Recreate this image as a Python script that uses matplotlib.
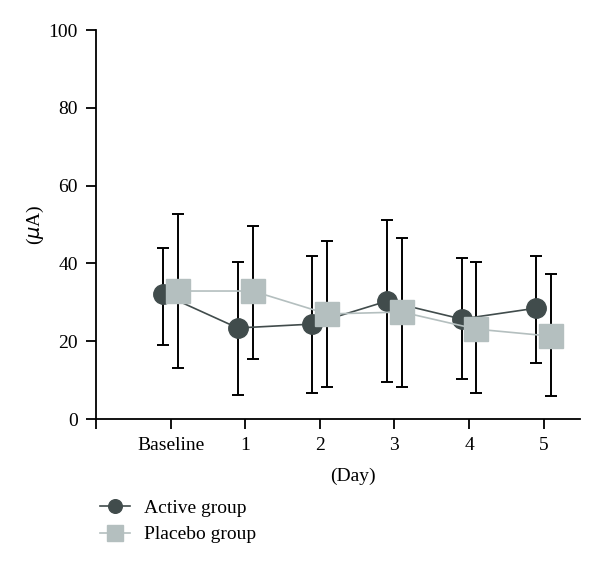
import numpy as np
import matplotlib
matplotlib.use('Agg')
import matplotlib.pyplot as plt

plt.rcParams['font.family'] = ['Liberation Serif', 'DejaVu Serif']

# Data
days = ['Baseline', '1', '2', '3', '4', '5']
active_mean = [32.1, 23.4, 24.4, 30.3, 25.7, 28.5]
active_hi = [44.0, 40.4, 41.9, 51.2, 41.4, 41.9]
active_lo = [19.0, 6.2, 6.7, 9.5, 10.3, 14.4]
placebo_mean = [32.9, 32.9, 27.0, 27.5, 23.1, 21.3]
placebo_hi = [52.8, 49.6, 45.7, 46.6, 40.4, 37.3]
placebo_lo = [13.1, 15.4, 8.2, 8.2, 6.7, 5.9]

dark = '#414c4c'
light = '#b4bfbf'

fig = plt.figure(figsize=(6, 5.65), dpi=100)
ax = fig.add_axes([0.16, 0.2584, 0.807, 0.6885])

x = np.arange(len(days))
xa = x - 0.1
xp = x + 0.1

am = np.array(active_mean)
pm = np.array(placebo_mean)

ax.errorbar(xa, am, yerr=[am - np.array(active_lo), np.array(active_hi) - am],
            fmt='none', ecolor='black', elinewidth=1.4, capsize=4, capthick=1.4, zorder=1)
ax.errorbar(xp, pm, yerr=[pm - np.array(placebo_lo), np.array(placebo_hi) - pm],
            fmt='none', ecolor='black', elinewidth=1.4, capsize=4, capthick=1.4, zorder=1)

ax.plot(xa, am, color=dark, lw=1.2, marker='o', ms=14, mfc=dark, mec=dark,
        label='Active group', zorder=3)
ax.plot(xp, pm, color=light, lw=1.2, marker='s', ms=17, mfc=light, mec=light,
        label='Placebo group', zorder=4)

ax.set_xlim(-1, 5.49)
ax.set_ylim(0, 100)
ax.set_xticks(np.arange(-1, len(days)))
ax.set_xticklabels([''] + days)
ax.set_yticks(np.arange(0, 101, 20))

for s in ['top', 'right']:
    ax.spines[s].set_visible(False)
for s in ['left', 'bottom']:
    ax.spines[s].set_linewidth(1.3)
ax.tick_params(direction='out', length=7, width=1.3, labelsize=14, pad=6)

ax.set_ylabel('($\\mu$A)', fontsize=14, va='center')
ax.yaxis.set_label_coords(-0.126, 0.5)
ax.set_xlabel('(Day)', fontsize=14, va='top')
ax.xaxis.set_label_coords(0.53, -0.125)

fig.legend(loc='center left', bbox_to_anchor=(100 / 600, 1 - 521.5 / 565),
           frameon=False, borderpad=0, borderaxespad=0,
           fontsize=14, handlelength=1.55, labelspacing=0.45, handletextpad=0.7,
           markerscale=0.7)

fig.savefig('out.png', dpi=100)
